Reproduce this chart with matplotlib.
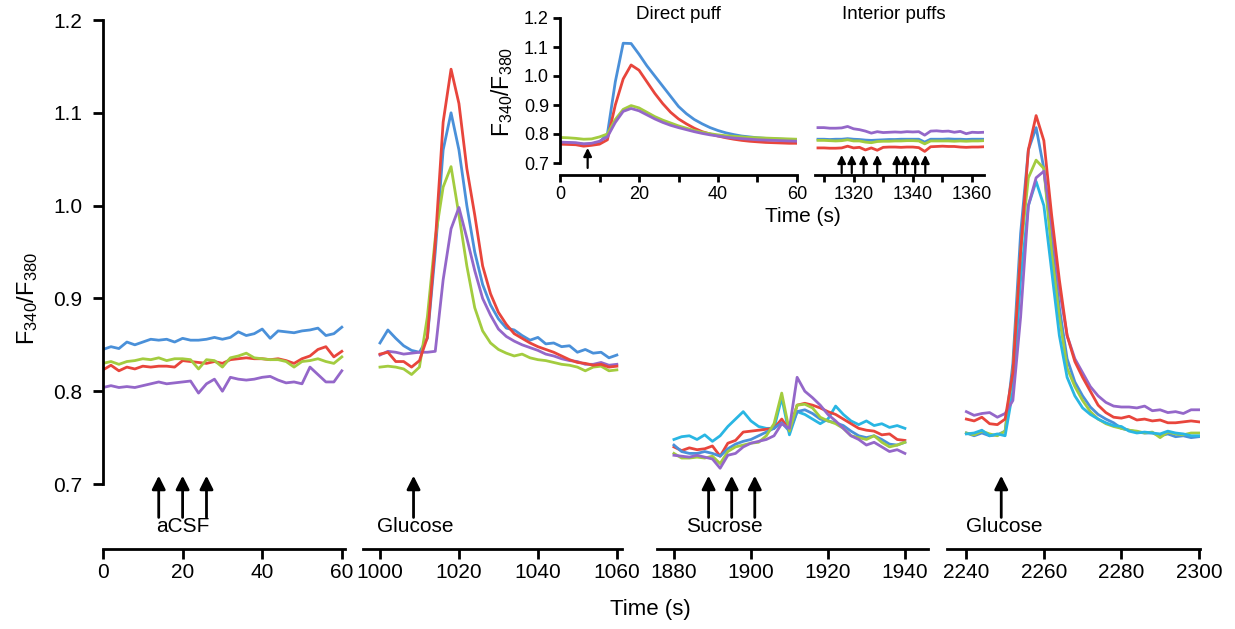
import numpy as np
import matplotlib.pyplot as plt
from matplotlib.ticker import MultipleLocator

plt.rcParams['font.family'] = ['Liberation Sans', 'DejaVu Sans']
plt.rcParams['mathtext.default'] = 'regular'

BLUE = "#4a90d9"
RED = "#e8453c"
GREEN = "#a3cc3f"
PURPLE = "#9467c9"
CYAN = "#29b6e3"

# ---- main panels: time axes (s) ----
t_acsf = np.arange(0, 61, 2)
t_glu1 = np.arange(1000, 1061, 2)
t_suc = np.arange(1880, 1941, 2)
t_glu2 = np.arange(2240, 2301, 2)

# aCSF
acsf_blue = [0.845, 0.848, 0.846, 0.853, 0.850, 0.853, 0.856, 0.855, 0.856, 0.853, 0.857,
             0.855, 0.855, 0.856, 0.858, 0.856, 0.858, 0.864, 0.860, 0.862, 0.867, 0.857,
             0.865, 0.864, 0.863, 0.865, 0.866, 0.868, 0.860, 0.862, 0.869]
acsf_red = [0.823, 0.828, 0.822, 0.826, 0.824, 0.827, 0.826, 0.827, 0.827, 0.826, 0.833,
            0.832, 0.831, 0.830, 0.832, 0.830, 0.834, 0.835, 0.836, 0.835, 0.835, 0.834,
            0.835, 0.833, 0.830, 0.835, 0.838, 0.845, 0.848, 0.837, 0.843]
acsf_green = [0.830, 0.832, 0.829, 0.832, 0.833, 0.835, 0.834, 0.836, 0.833, 0.835, 0.835,
              0.834, 0.824, 0.834, 0.833, 0.826, 0.836, 0.838, 0.841, 0.836, 0.835, 0.834,
              0.834, 0.832, 0.826, 0.832, 0.833, 0.835, 0.832, 0.830, 0.837]
acsf_purple = [0.804, 0.806, 0.804, 0.805, 0.804, 0.806, 0.808, 0.810, 0.808, 0.809, 0.810,
               0.811, 0.798, 0.808, 0.813, 0.800, 0.815, 0.813, 0.812, 0.813, 0.815, 0.816,
               0.812, 0.809, 0.810, 0.808, 0.826, 0.818, 0.810, 0.810, 0.822]

# Glucose (first)
glu1_blue = [0.852, 0.866, 0.857, 0.849, 0.844, 0.842, 0.857, 0.950, 1.060, 1.100, 1.060,
             1.000, 0.950, 0.915, 0.893, 0.878, 0.868, 0.866, 0.860, 0.855, 0.858, 0.851,
             0.852, 0.848, 0.849, 0.842, 0.845, 0.841, 0.842, 0.836, 0.839]
glu1_red = [0.840, 0.842, 0.832, 0.832, 0.826, 0.833, 0.858, 0.960, 1.090, 1.147, 1.110,
            1.040, 0.990, 0.935, 0.905, 0.885, 0.872, 0.862, 0.857, 0.852, 0.848, 0.845,
            0.842, 0.838, 0.834, 0.831, 0.830, 0.828, 0.829, 0.826, 0.827]
glu1_green = [0.826, 0.827, 0.826, 0.824, 0.818, 0.826, 0.880, 0.965, 1.020, 1.042, 0.990,
              0.935, 0.890, 0.865, 0.852, 0.845, 0.841, 0.838, 0.840, 0.836, 0.834, 0.833,
              0.831, 0.829, 0.828, 0.826, 0.822, 0.826, 0.827, 0.822, 0.823]
glu1_purple = [0.839, 0.843, 0.842, 0.840, 0.841, 0.842, 0.842, 0.843, 0.920, 0.975, 0.998,
               0.965, 0.930, 0.900, 0.882, 0.867, 0.859, 0.854, 0.850, 0.847, 0.844, 0.840,
               0.838, 0.835, 0.833, 0.832, 0.829, 0.829, 0.831, 0.828, 0.829]

# Sucrose
suc_cyan = [0.748, 0.751, 0.752, 0.748, 0.753, 0.746, 0.752, 0.762, 0.770, 0.778, 0.768,
            0.762, 0.760, 0.760, 0.793, 0.753, 0.778, 0.775, 0.770, 0.765, 0.770, 0.784,
            0.775, 0.768, 0.764, 0.768, 0.763, 0.765, 0.761, 0.763, 0.760]
suc_red = [0.740, 0.736, 0.739, 0.737, 0.738, 0.741, 0.730, 0.744, 0.747, 0.756, 0.757,
           0.758, 0.759, 0.760, 0.770, 0.758, 0.785, 0.787, 0.785, 0.782, 0.778, 0.775,
           0.770, 0.765, 0.760, 0.758, 0.757, 0.753, 0.754, 0.748, 0.747]
suc_blue = [0.742, 0.735, 0.733, 0.733, 0.735, 0.733, 0.730, 0.738, 0.743, 0.746, 0.748,
            0.752, 0.756, 0.760, 0.766, 0.757, 0.778, 0.780, 0.776, 0.770, 0.768, 0.766,
            0.763, 0.757, 0.752, 0.750, 0.752, 0.748, 0.743, 0.742, 0.745]
suc_green = [0.733, 0.728, 0.728, 0.729, 0.728, 0.730, 0.722, 0.735, 0.740, 0.742, 0.744,
             0.745, 0.752, 0.765, 0.798, 0.757, 0.785, 0.786, 0.782, 0.772, 0.768, 0.765,
             0.760, 0.752, 0.750, 0.748, 0.752, 0.745, 0.740, 0.742, 0.745]
suc_purple = [0.731, 0.730, 0.729, 0.731, 0.729, 0.727, 0.717, 0.731, 0.733, 0.740, 0.744,
              0.746, 0.748, 0.752, 0.765, 0.760, 0.815, 0.800, 0.793, 0.785, 0.775, 0.768,
              0.760, 0.752, 0.748, 0.742, 0.745, 0.740, 0.735, 0.737, 0.733]

# Glucose (second)
glu2_blue = [0.755, 0.752, 0.755, 0.752, 0.753, 0.757, 0.830, 0.970, 1.060, 1.084, 1.040,
             0.960, 0.890, 0.835, 0.810, 0.795, 0.783, 0.775, 0.770, 0.766, 0.760, 0.758,
             0.756, 0.755, 0.755, 0.752, 0.754, 0.751, 0.752, 0.750, 0.751]
glu2_red = [0.770, 0.768, 0.772, 0.765, 0.764, 0.770, 0.820, 0.950, 1.060, 1.097, 1.070,
            0.990, 0.920, 0.860, 0.832, 0.815, 0.800, 0.785, 0.777, 0.772, 0.771, 0.773,
            0.769, 0.770, 0.768, 0.769, 0.766, 0.766, 0.767, 0.768, 0.767]
glu2_green = [0.755, 0.753, 0.757, 0.754, 0.752, 0.757, 0.820, 0.950, 1.030, 1.049, 1.040,
              0.950, 0.880, 0.825, 0.805, 0.790, 0.778, 0.770, 0.765, 0.762, 0.760, 0.758,
              0.757, 0.755, 0.756, 0.750, 0.756, 0.754, 0.753, 0.755, 0.755]
glu2_purple = [0.778, 0.774, 0.776, 0.777, 0.772, 0.776, 0.790, 0.880, 1.000, 1.030, 1.037,
               0.980, 0.910, 0.860, 0.835, 0.820, 0.805, 0.795, 0.788, 0.784, 0.783, 0.783,
               0.782, 0.784, 0.779, 0.780, 0.777, 0.778, 0.776, 0.780, 0.780]
glu2_cyan = [0.754, 0.755, 0.758, 0.752, 0.754, 0.752, 0.800, 0.920, 1.000, 1.026, 1.000,
             0.930, 0.860, 0.815, 0.795, 0.782, 0.775, 0.770, 0.766, 0.763, 0.762, 0.757,
             0.755, 0.756, 0.755, 0.754, 0.757, 0.755, 0.754, 0.752, 0.752]

# ---- inset ----
t_direct = np.arange(0, 61, 2)
direct_blue = [0.770, 0.770, 0.768, 0.765, 0.766, 0.772, 0.800, 0.980, 1.113, 1.112, 1.075,
               1.035, 1.000, 0.965, 0.930, 0.895, 0.870, 0.850, 0.835, 0.822, 0.812, 0.804,
               0.798, 0.793, 0.790, 0.787, 0.785, 0.783, 0.782, 0.781, 0.780]
direct_red = [0.765, 0.764, 0.763, 0.758, 0.761, 0.765, 0.780, 0.900, 0.990, 1.038, 1.020,
              0.980, 0.940, 0.905, 0.875, 0.852, 0.835, 0.820, 0.808, 0.800, 0.793, 0.787,
              0.782, 0.778, 0.775, 0.773, 0.771, 0.770, 0.769, 0.768, 0.768]
direct_green = [0.788, 0.787, 0.785, 0.782, 0.783, 0.790, 0.800, 0.850, 0.885, 0.898, 0.890,
                0.875, 0.860, 0.848, 0.838, 0.828, 0.820, 0.812, 0.806, 0.801, 0.797, 0.794,
                0.792, 0.790, 0.788, 0.787, 0.786, 0.785, 0.784, 0.783, 0.782]
direct_purple = [0.772, 0.771, 0.770, 0.766, 0.768, 0.775, 0.790, 0.840, 0.878, 0.888, 0.880,
                 0.866, 0.852, 0.840, 0.830, 0.822, 0.815, 0.808, 0.802, 0.797, 0.793, 0.789,
                 0.786, 0.784, 0.782, 0.780, 0.779, 0.778, 0.777, 0.776, 0.775]

t_interior = np.arange(1308, 1365, 2)
interior_purple = [0.822, 0.822, 0.820, 0.820, 0.821, 0.826, 0.818, 0.815, 0.810, 0.803,
                   0.808, 0.805, 0.806, 0.807, 0.806, 0.808, 0.807, 0.808, 0.796, 0.810,
                   0.811, 0.809, 0.810, 0.806, 0.809, 0.801, 0.806, 0.805, 0.806]
interior_blue = [0.782, 0.782, 0.781, 0.782, 0.782, 0.784, 0.782, 0.781, 0.779, 0.778,
                 0.779, 0.780, 0.781, 0.781, 0.782, 0.782, 0.782, 0.782, 0.772, 0.782,
                 0.782, 0.782, 0.783, 0.782, 0.782, 0.781, 0.782, 0.782, 0.782]
interior_green = [0.778, 0.778, 0.777, 0.776, 0.777, 0.780, 0.776, 0.776, 0.772, 0.770,
                  0.774, 0.775, 0.775, 0.776, 0.776, 0.777, 0.777, 0.776, 0.766, 0.776,
                  0.776, 0.776, 0.776, 0.775, 0.776, 0.775, 0.776, 0.776, 0.777]
interior_red = [0.752, 0.752, 0.751, 0.751, 0.752, 0.758, 0.752, 0.754, 0.745, 0.752,
                0.744, 0.754, 0.755, 0.755, 0.754, 0.755, 0.755, 0.753, 0.740, 0.756,
                0.757, 0.758, 0.757, 0.757, 0.755, 0.754, 0.755, 0.755, 0.756]

# puffs
acsf_puffs = [14, 20, 26]
glu1_puffs = [1008.5]
suc_puffs = [1889, 1895, 1901]
glu2_puffs = [2249]
direct_puffs = [7]
interior_puffs = [1316, 1319.4, 1323.4, 1328, 1334.6, 1337.4, 1340.8, 1344.2]

W, H = 1235, 629
fig = plt.figure(figsize=(W / 100, H / 100), dpi=100)


def px_axes(x0, x1, ybot, ytop):
    return fig.add_axes([x0 / W, (H - ybot) / H, (x1 - x0) / W, (ybot - ytop) / H])


def style(ax, left=False, lw=2.0, fs=15, tlen=7):
    for s in ['top', 'right']:
        ax.spines[s].set_visible(False)
    ax.spines['bottom'].set_linewidth(lw)
    ax.spines['left'].set_linewidth(lw)
    ax.patch.set_alpha(0)
    ax.tick_params(axis='both', which='both', width=lw, length=tlen, labelsize=fs,
                   direction='out', pad=3)
    if not left:
        ax.spines['left'].set_visible(False)
        ax.set_yticks([])


def arrow(ax, x, y0, y1, ms=20, lw=2.0):
    ax.annotate('', xy=(x, y1), xytext=(x, y0),
                arrowprops=dict(arrowstyle='-|>', color='black', lw=lw,
                                mutation_scale=ms, shrinkA=0, shrinkB=0),
                annotation_clip=False)


YMIN = 0.63
main_panels = [
    (103, 345, (0, 60.8), [0, 20, 40, 60], t_acsf,
     [(acsf_blue, BLUE), (acsf_red, RED), (acsf_green, GREEN), (acsf_purple, PURPLE)],
     acsf_puffs, 'aCSF', 20),
    (363, 622, (995.7, 1061.3), [1000, 1020, 1040, 1060], t_glu1,
     [(glu1_blue, BLUE), (glu1_green, GREEN), (glu1_purple, PURPLE), (glu1_red, RED)],
     glu1_puffs, 'Glucose', 1009),
    (657, 928, (1875.6, 1946), [1880, 1900, 1920, 1940], t_suc,
     [(suc_cyan, CYAN), (suc_red, RED), (suc_blue, BLUE), (suc_green, GREEN), (suc_purple, PURPLE)],
     suc_puffs, 'Sucrose', 1893),
    (947, 1200, (2235, 2300.3), [2240, 2260, 2280, 2300], t_glu2,
     [(glu2_blue, BLUE), (glu2_green, GREEN), (glu2_cyan, CYAN), (glu2_purple, PURPLE), (glu2_red, RED)],
     glu2_puffs, 'Glucose', 2249.8),
]

for i, (x0, x1, xlim, xt, tt, series, puffs, label, lx) in enumerate(main_panels):
    ax = px_axes(x0, x1, 549, 20)
    style(ax, left=(i == 0))
    for vals, c in series:
        ax.plot(tt, vals, color=c, lw=2.0, solid_joinstyle='round')
    ax.set_xlim(*xlim)
    ax.set_ylim(YMIN, 1.2)
    ax.set_xticks(xt)
    if i == 0:
        ax.spines['left'].set_bounds(0.7, 1.2)
        ax.set_yticks([0.7, 0.8, 0.9, 1.0, 1.1, 1.2])
        ax.set_yticklabels(['0.7', '0.8', '0.9', '1.0', '1.1', '1.2'])
        ax.tick_params(axis='y', pad=8)
    for p in puffs:
        arrow(ax, p, 0.664, 0.709)
    ax.text(lx, 0.654, label, ha='center', va='center', fontsize=15)

fig.text(28 / W, 1 - 298 / H, 'F$_{340}$/F$_{380}$', rotation=90, ha='center',
         va='center', fontsize=17)
fig.text(650 / W, 1 - 609 / H, 'Time (s)', ha='center', va='center', fontsize=16)

# ---- inset ----
IYMIN = 0.7 - 12 / 290
ins1 = px_axes(560, 797, 175, 18)
style(ins1, left=True, lw=2.0, fs=13, tlen=5)
for vals, c in [(direct_blue, BLUE), (direct_red, RED), (direct_green, GREEN), (direct_purple, PURPLE)]:
    ins1.plot(t_direct, vals, color=c, lw=2.0)
ins1.set_xlim(0, 60)
ins1.set_ylim(IYMIN, 1.2)
ins1.spines['left'].set_bounds(0.7, 1.2)
ins1.set_yticks([0.7, 0.8, 0.9, 1.0, 1.1, 1.2])
ins1.set_yticklabels(['0.7', '0.8', '0.9', '1.0', '1.1', '1.2'])
ins1.set_xticks([0, 20, 40, 60])
ins1.xaxis.set_minor_locator(MultipleLocator(10))
for p in direct_puffs:
    arrow(ins1, p, 0.683, 0.752, ms=12, lw=1.6)
ins1.text(30, 1.213, 'Direct puff', ha='center', va='center', fontsize=13.5)

ins2 = px_axes(815, 984, 175, 18)
style(ins2, left=False, lw=2.0, fs=13, tlen=5)
for vals, c in [(interior_purple, PURPLE), (interior_blue, BLUE), (interior_green, GREEN), (interior_red, RED)]:
    ins2.plot(t_interior, vals, color=c, lw=2.0)
ins2.set_xlim(1307, 1364)
ins2.set_ylim(IYMIN, 1.2)
ins2.set_xticks([1320, 1340, 1360])
ins2.set_xticks([1310, 1330, 1350], minor=True)
for p in interior_puffs:
    arrow(ins2, p, 0.665, 0.728, ms=12, lw=1.6)
ins2.text(1333.5, 1.213, 'Interior puffs', ha='center', va='center', fontsize=13.5)

fig.text(502 / W, 1 - 92 / H, 'F$_{340}$/F$_{380}$', rotation=90, ha='center',
         va='center', fontsize=16.5)
fig.text(803 / W, 1 - 216 / H, 'Time (s)', ha='center', va='center', fontsize=15)

fig.savefig('out.png', dpi=100)
